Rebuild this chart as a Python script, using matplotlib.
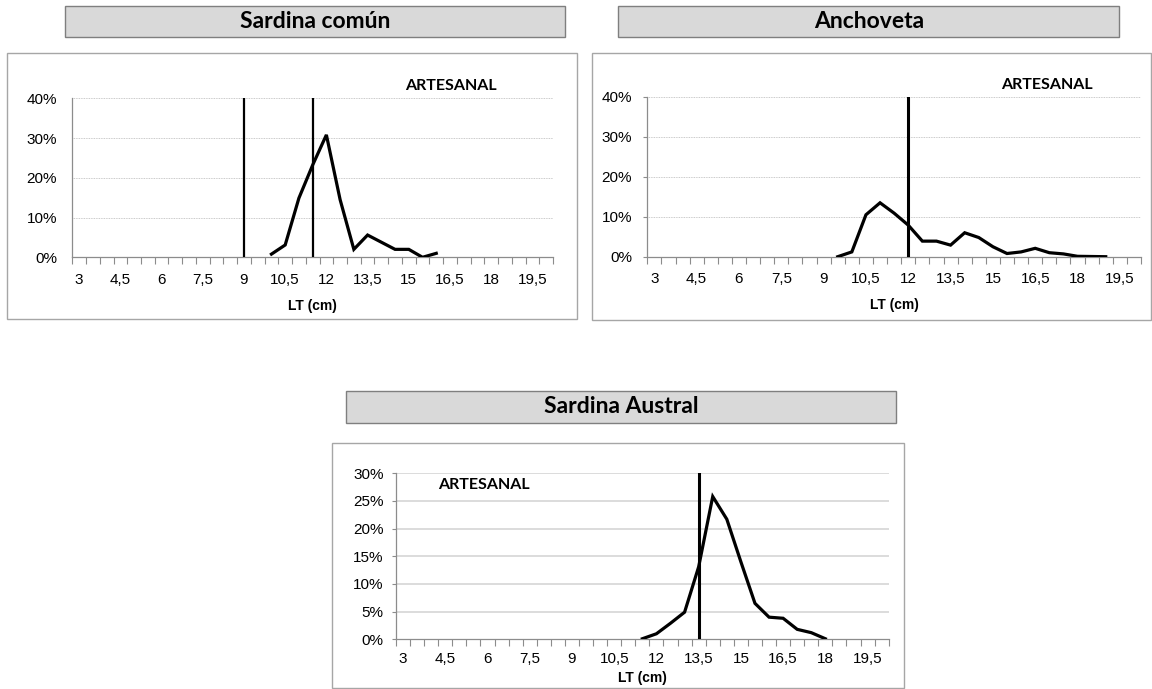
import matplotlib
matplotlib.use("Agg")
import matplotlib.pyplot as plt
from matplotlib.patches import Rectangle
import numpy as np

# ---------------- data ----------------
cats = [3 + 0.5 * i for i in range(35)]          # 3 .. 20 (category axis)
xlabels = ["3", "4,5", "6", "7,5", "9", "10,5", "12", "13,5", "15", "16,5", "18", "19,5"]
xlabel_pos = [3, 4.5, 6, 7.5, 9, 10.5, 12, 13.5, 15, 16.5, 18, 19.5]

titles = ["Sardina común", "Anchoveta", "Sardina Austral"]

sc_x = [10, 10.5, 11, 11.5, 12, 12.5, 13, 13.5, 14, 14.5, 15, 15.5, 16]
sc_y = [0.8, 3.1, 14.9, 23.2, 30.8, 14.5, 2.0, 5.6, 3.8, 2.0, 2.0, 0.0, 1.0]
sc_vlines = [9, 11.5]

an_x = [9.5, 10, 10.5, 11, 11.5, 12, 12.5, 13, 13.5, 14, 14.5, 15, 15.5, 16, 16.5, 17, 17.5, 18, 18.5, 19]
an_y = [0.0, 1.2, 10.5, 13.5, 10.9, 7.9, 3.9, 3.9, 2.9, 6.0, 4.8, 2.5, 0.8, 1.2, 2.1, 1.0, 0.7, 0.1, 0.05, 0.0]
an_vlines = [12]

sa_x = [11.5, 12, 12.5, 13, 13.5, 14, 14.5, 15, 15.5, 16, 16.5, 17, 17.5, 18]
sa_y = [0.1, 1.0, 2.9, 4.9, 13.1, 25.8, 21.7, 14.0, 6.5, 4.0, 3.8, 1.8, 1.2, 0.1]
sa_vlines = [13.5]

W, H = 1152, 689
fig = plt.figure(figsize=(W / 100, H / 100), dpi=100)
fig.patch.set_facecolor("white")

TITLE_FONT = ["Lato", "DejaVu Sans"]
AX_FONT = ["Liberation Sans", "DejaVu Sans"]


def px_rect(x0, y0, x1, y1, fc, ec, lw=1.0):
    r = Rectangle((x0 / W, 1 - y1 / H), (x1 - x0) / W, (y1 - y0) / H,
                  transform=fig.transFigure, facecolor=fc, edgecolor=ec,
                  linewidth=lw, zorder=0)
    fig.add_artist(r)


def px_text(x, y, s, **kw):
    fig.text(x / W, 1 - y / H, s, ha="center", va="center", **kw)


def make_axes(l, r, b, t):
    return fig.add_axes([l / W, 1 - b / H, (r - l) / W, (b - t) / H])


def style_axes(ax, ymax, ystep, grid_style, ytick_len, ypad, tick_pad, label_pad):
    ax.set_xlim(2.75, 20.25)
    ax.set_ylim(0, ymax)
    ax.set_xticks(xlabel_pos)
    ax.set_xticklabels(xlabels, fontsize=11, family=AX_FONT)
    ax.set_xticks([2.75 + 0.5 * k for k in range(36)], minor=True)
    ax.tick_params(axis="x", which="major", length=0, pad=tick_pad)
    ax.tick_params(axis="x", which="minor", length=5, width=0.8,
                   color="#8c8c8c", direction="out")
    yt = np.arange(0, ymax + 0.01, ystep)
    ax.set_yticks(yt)
    ax.set_yticklabels([f"{int(v)}%" for v in yt], fontsize=11, family=AX_FONT)
    ax.tick_params(axis="y", length=ytick_len, width=0.8,
                   color="#8c8c8c", pad=ypad)
    for s in ["top", "right"]:
        ax.spines[s].set_visible(False)
    for s in ["left", "bottom"]:
        ax.spines[s].set_color("#8c8c8c")
        ax.spines[s].set_linewidth(0.9)
    for v in yt[1:]:
        if grid_style == "dotted":
            ax.axhline(v, color="#b8b8b8", lw=0.6, ls=(0, (1, 1)), zorder=1)
        else:
            ax.axhline(v, color="#d9d9d9", lw=1.3, zorder=1)
    ax.set_xlabel("LT (cm)", fontsize=10, fontweight="bold", family=AX_FONT,
                  labelpad=label_pad)
    ax.patch.set_alpha(0)


# ---------------- frames & title boxes ----------------
px_rect(7.3, 52.7, 577, 319.3, "white", "#a6a6a6", 1.0)
px_rect(591.7, 53.3, 1150.5, 320, "white", "#a6a6a6", 1.0)
px_rect(331.7, 442.7, 904, 688, "white", "#a6a6a6", 1.0)

px_rect(65.3, 5.7, 565, 37.3, "#d9d9d9", "#7f7f7f", 1.0)
px_rect(618.3, 5.7, 1119.3, 37.3, "#d9d9d9", "#7f7f7f", 1.0)
px_rect(346, 391, 896, 422.7, "#d9d9d9", "#7f7f7f", 1.0)

px_text((65.3 + 565) / 2, 21.5, titles[0], fontsize=16.5, fontweight="bold", family=TITLE_FONT)
px_text((618.3 + 1119.3) / 2, 21.5, titles[1], fontsize=16.5, fontweight="bold", family=TITLE_FONT)
px_text((346 + 896) / 2, 407, titles[2], fontsize=16.5, fontweight="bold", family=TITLE_FONT)

# ---------------- panel 1 ----------------
ax1 = make_axes(72.3, 553, 257.3, 98.3)
style_axes(ax1, 40, 10, "dotted", 0, 11, 11, 9)
for v in sc_vlines:
    ax1.plot([v, v], [0, 40], color="black", lw=1.6, zorder=3)
ax1.plot(sc_x, sc_y, color="black", lw=2.3, zorder=4, solid_joinstyle="miter")
px_text(451, 86, "ARTESANAL", fontsize=11.5, fontweight="bold", family=TITLE_FONT)

# ---------------- panel 2 ----------------
ax2 = make_axes(647.3, 1141, 256.7, 97)
style_axes(ax2, 40, 10, "dotted", 3, 8, 11, 9)
for v in an_vlines:
    ax2.plot([v, v], [0, 40], color="black", lw=2.2, zorder=3)
ax2.plot(an_x, an_y, color="black", lw=2.3, zorder=4, solid_joinstyle="miter")
px_text(1047, 85, "ARTESANAL", fontsize=11.5, fontweight="bold", family=TITLE_FONT)

# ---------------- panel 3 ----------------
ax3 = make_axes(396, 888.7, 639.3, 473.3)
style_axes(ax3, 30, 5, "solid", 3, 6, 9, 4)
for v in sa_vlines:
    ax3.plot([v, v], [0, 30], color="black", lw=2.2, zorder=3)
ax3.plot(sa_x, sa_y, color="black", lw=2.3, zorder=4, solid_joinstyle="miter")
px_text(484, 485, "ARTESANAL", fontsize=11.5, fontweight="bold", family=TITLE_FONT)

fig.savefig("out.png", dpi=100, facecolor="white")
